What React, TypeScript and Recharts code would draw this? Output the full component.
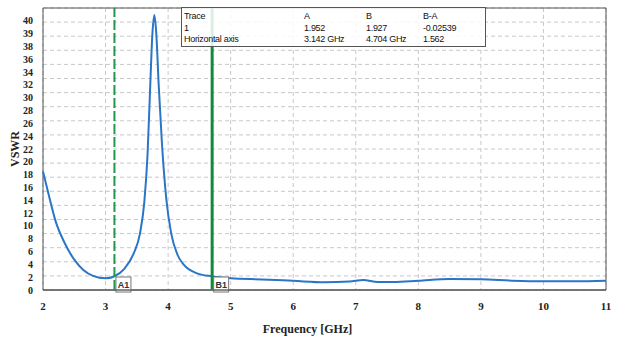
import { LineChart, Line, XAxis, YAxis, CartesianGrid, ReferenceLine, ReferenceArea } from 'recharts'

const freq = [2.0, 2.1, 2.2, 2.35, 2.5, 2.65, 2.8, 3.0, 3.142, 3.3, 3.45, 3.55, 3.62, 3.67, 3.71, 3.75, 3.78, 3.81, 3.85, 3.9, 3.97, 4.05, 4.15, 4.25, 4.45, 4.704, 5.0, 5.5, 6.0, 6.5, 6.9, 7.12, 7.35, 7.6, 8.0, 8.5, 9.0, 9.5, 10.0, 10.5, 11.0]
const vswr = [16.8, 13.2, 9.8, 6.6, 4.3, 2.8, 2.0, 1.65, 1.95, 3.0, 5.2, 8.0, 12.5, 19, 28, 36.5, 39, 36.5, 29, 21, 13, 8.0, 5.0, 3.6, 2.4, 1.93, 1.65, 1.5, 1.3, 1.1, 1.2, 1.42, 1.12, 1.12, 1.3, 1.55, 1.52, 1.32, 1.23, 1.23, 1.32]

const xTicks = [2, 3, 4, 5, 6, 7, 8, 9, 10, 11]
const gridTicks = [0, 2, 4, 6, 8, 10, 12, 14, 16, 18, 20, 22, 24, 26, 28, 30, 32, 34, 36, 38, 40]
// the vertical labels as printed on the original plot (evenly spaced, 39 included)
const yLabels = ['0', '2', '4', '6', '8', '10', '12', '14', '16', '18', '20', '22', '24', '26', '28', '30', '32', '34', '36', '38', '39', '40']

const markers = [
  { name: 'A1', f: 3.142, color: '#1f9a4a', dash: '10 3', width: 2 },
  { name: 'B1', f: 4.704, color: '#14883c', dash: undefined, width: 3 },
]

const tableRows = [
  ['Trace', 'A', 'B', 'B-A'],
  ['1', '1.952', '1.927', '-0.02539'],
  ['Horizontal axis', '3.142 GHz', '4.704 GHz', '1.562'],
]

const data = freq.map((f, i) => ({ f, v: vswr[i] }))
const labelIdx = yLabels.map((_, i) => i)

const serifBold = { fontSize: 11, fill: '#222', fontFamily: 'Liberation Serif', fontWeight: 'bold' }

function MarkerTag(props: any) {
  const { viewBox, text } = props
  if (!viewBox) return null
  const bottom = viewBox.y + viewBox.height
  return (
    <g>
      <rect x={viewBox.x + 1.5} y={bottom - 13} width={15} height={15} fill="#fff" stroke="#777" />
      <text x={viewBox.x + 9} y={bottom - 2} textAnchor="middle" fontSize={9} fontFamily="Liberation Sans" fontWeight="bold" fill="#333">
        {text}
      </text>
    </g>
  )
}

// the value axis only feeds the grid; its own tick text stays empty
const NoTick = () => <g />

export default function App() {
  return (
    <div style={{ position: 'relative', width: 621, height: 339, background: '#fff' }}>
      <style>{'body{margin:0}'}</style>
      <LineChart width={621} height={339} data={data} margin={{ top: 8, right: 15, bottom: 0, left: 0 }}>
        <CartesianGrid stroke="#c8c8c8" strokeDasharray="4 3" />
        <XAxis
          dataKey="f"
          type="number"
          domain={[2, 11]}
          ticks={xTicks}
          interval={0}
          tick={serifBold}
          tickLine={false}
          tickMargin={6}
          axisLine={{ stroke: '#666', strokeWidth: 1.5 }}
          height={49}
          label={{ value: 'Frequency [GHz]', position: 'insideBottom', offset: 6, dx: -17, style: { fontFamily: 'Liberation Serif', fontWeight: 'bold', fontSize: 12, fill: '#222' } }}
        />
        <YAxis
          type="number"
          domain={[0, 40]}
          allowDataOverflow
          ticks={gridTicks}
          interval={0}
          tick={NoTick}
          tickLine={false}
          width={0}
          axisLine={{ stroke: '#666', strokeWidth: 1.5 }}
        />
        <YAxis
          yAxisId="lbl"
          type="number"
          domain={[0, 22]}
          allowDataOverflow
          ticks={labelIdx}
          interval={0}
          tickFormatter={(i: number) => yLabels[i]}
          tick={{ ...serifBold, fontSize: 10 }}
          tickLine={false}
          tickMargin={4}
          axisLine={false}
          width={43}
          label={{ value: 'VSWR', angle: -90, position: 'insideLeft', offset: 15, style: { textAnchor: 'middle', fontFamily: 'Liberation Serif', fontWeight: 'bold', fontSize: 12, fill: '#222' } }}
        />
        <ReferenceArea x1={2} x2={11} y1={0} y2={40} fill="none" stroke="#555" strokeWidth={1} />
        <Line
          type="monotone"
          dataKey="v"
          stroke="#2a76c6"
          strokeWidth={2}
          dot={false}
          isAnimationActive={false}
        />
        {markers.map(m => (
          <ReferenceLine
            key={m.name}
            x={m.f}
            stroke={m.color}
            strokeWidth={m.width}
            strokeDasharray={m.dash}
            label={(p: any) => <MarkerTag {...p} text={m.name} />}
          />
        ))}
      </LineChart>
      <div
        style={{
          position: 'absolute',
          left: 181,
          top: 7,
          width: 305,
          height: 40,
          boxSizing: 'border-box',
          border: '1px solid #555',
          background: 'rgba(255,255,255,0.85)',
          fontFamily: 'Liberation Sans',
          fontSize: 9,
          letterSpacing: -0.3,
          color: '#111',
          paddingTop: 3,
          paddingLeft: 2,
          display: 'grid',
          gridTemplateColumns: '120px 62px 57px 1fr',
          gridAutoRows: '11.5px',
          lineHeight: '11.5px',
        }}
      >
        {tableRows.flatMap((row, r) => row.map((cell, c) => <span key={r + '-' + c}>{cell}</span>))}
      </div>
    </div>
  )
}
